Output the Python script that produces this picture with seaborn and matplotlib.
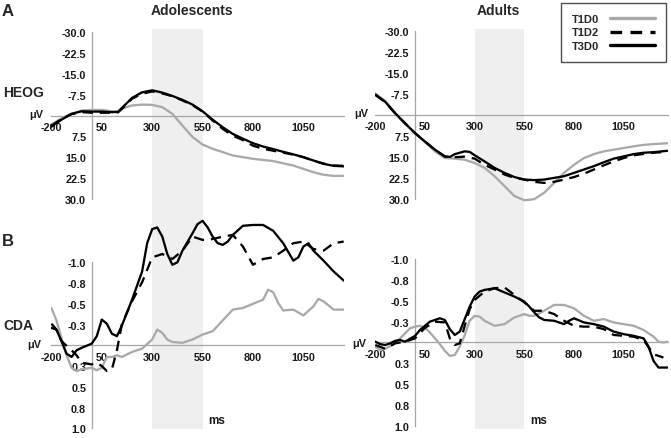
import numpy as np
import pandas as pd
import matplotlib
matplotlib.use("Agg")
import matplotlib.pyplot as plt
from matplotlib.lines import Line2D
from matplotlib.ticker import FixedLocator, FixedFormatter
import seaborn as sns

# ---------------- data ----------------
conditions = ["T1D0", "T1D2", "T3D0"]
groups = ["Adolescents", "Adults"]
x_ticks = [-200, 50, 300, 550, 800, 1050]
x_ticklabels = ["-200", "50", "300", "550", "800", "1050"]
heog_ticks = [-30, -22.5, -15, -7.5, 7.5, 15, 22.5, 30]
heog_ticklabels = ["-30.0", "-22.5", "-15.0", "-7.5", "7.5", "15.0", "22.5", "30.0"]
cda_ticks = [-1.0, -0.75, -0.5, -0.25, 0.25, 0.5, 0.75, 1.0]
cda_ticklabels = ["-1.0", "-0.8", "-0.5", "-0.3", "0.3", "0.5", "0.8", "1.0"]
window = [300, 550]

# HEOG, adolescents
heog_ado_t1d0_ms = [-200, -150, -100, -50, 0, 50, 100, 130, 150, 200, 250, 300, 350, 400, 450, 500,
                    550, 600, 650, 700, 800, 900, 1000, 1050, 1100, 1150, 1200, 1250]
heog_ado_t1d0 = [3.2, 1.0, -0.6, -1.8, -2.0, -2.0, -1.5, -1.4, -2.5, -3.6, -3.9, -3.8, -3.0, -0.6, 3.6, 7.7,
                 10.4, 11.9, 13.1, 14.3, 15.5, 16.3, 17.9, 19.1, 20.3, 21.2, 21.6, 21.6]
heog_ado_t1d2_ms = [-200, -150, -100, -50, 0, 50, 100, 130, 150, 200, 250, 300, 350, 400, 450, 500, 550,
                    600, 650, 700, 750, 800, 850, 900, 950, 1000, 1050, 1100, 1150, 1200, 1250]
heog_ado_t1d2 = [3.6, 1.3, -0.5, -1.2, -1.0, -1.0, -1.0, -1.1, -2.4, -6.0, -7.8, -8.6, -7.9, -6.9, -5.4, -3.7, -1.4,
                 1.8, 4.8, 7.2, 8.8, 10.8, 11.9, 12.6, 13.3, 14.0, 14.9, 16.2, 17.2, 17.9, 18.0]
heog_ado_t3d0_ms = [-200, -150, -100, -50, 0, 50, 100, 130, 150, 200, 250, 300, 350, 400, 450, 500, 550,
                    600, 650, 700, 750, 800, 850, 900, 950, 1000, 1050, 1100, 1150, 1200, 1250]
heog_ado_t3d0 = [4.0, 1.5, -0.6, -1.5, -1.4, -1.4, -1.2, -1.3, -2.7, -6.3, -8.3, -9.0, -8.2, -7.0, -5.6, -3.9, -1.5,
                 1.5, 4.2, 6.6, 8.3, 9.9, 11.1, 12.0, 13.0, 13.9, 14.9, 16.1, 17.3, 18.0, 18.2]

# HEOG, adults
heog_adu_t1d0_ms = [-200, -150, -100, -50, 0, 50, 100, 150, 200, 250, 300, 350, 400, 450, 500, 550, 600,
                    650, 700, 750, 800, 850, 900, 950, 1000, 1050, 1100, 1150, 1200, 1270]
heog_adu_t1d0 = [-7.7, -5.0, -0.8, 3.0, 6.5, 9.7, 13.0, 15.4, 15.6, 16.0, 17.2, 18.9, 21.9, 25.4, 29.0, 30.5, 30.1,
                 27.8, 24.3, 20.7, 17.8, 15.4, 14.0, 13.0, 12.4, 11.8, 11.2, 10.7, 10.4, 10.1]
heog_adu_t1d2_ms = [-200, -150, -100, -50, 0, 50, 100, 150, 200, 250, 300, 350, 400, 450, 500, 550, 600,
                    650, 700, 750, 800, 850, 900, 950, 1000, 1050, 1100, 1200, 1270]
heog_adu_t1d2 = [-7.2, -4.6, -0.6, 3.0, 6.5, 9.5, 12.4, 14.9, 15.1, 14.9, 15.6, 17.8, 19.5, 21.3, 22.5, 23.1, 23.9,
                 24.3, 23.9, 23.1, 22.2, 21.0, 19.5, 18.0, 16.6, 15.4, 14.4, 13.5, 13.2]
heog_adu_t3d0_ms = [-200, -150, -100, -50, 0, 50, 100, 150, 175, 200, 250, 275, 300, 350, 400, 450, 500, 550,
                    600, 650, 700, 750, 800, 850, 900, 950, 1000, 1050, 1100, 1150, 1200, 1270]
heog_adu_t3d0 = [-7.3, -4.7, -0.6, 3.0, 6.5, 9.5, 12.4, 14.8, 15.0, 14.0, 13.0, 13.2, 14.4, 16.6, 18.9, 20.7, 22.2,
                 23.1, 23.3, 23.1, 22.5, 21.9, 20.7, 19.5, 18.3, 16.9, 15.6, 14.8, 14.0, 13.5, 13.3, 12.8]

# CDA, adolescents
cda_ado_t1d0_ms = [-200, -175, -150, -125, -100, -75, -50, 0, 25, 50, 75, 100, 125, 150, 200, 250, 300, 325,
                   350, 375, 400, 450, 500, 550, 600, 650, 700, 750, 800, 850, 875, 900, 925, 950, 1000,
                   1050, 1100, 1125, 1150, 1200, 1250]
cda_ado_t1d0 = [-0.45, -0.30, -0.09, 0.12, 0.27, 0.31, 0.29, 0.27, 0.30, 0.27, 0.14, 0.14, 0.12, 0.14, 0.08,
                0.04, -0.07, -0.19, -0.15, -0.07, -0.04, -0.03, -0.07, -0.13, -0.17, -0.30, -0.43, -0.45,
                -0.50, -0.55, -0.67, -0.64, -0.51, -0.42, -0.43, -0.36, -0.47, -0.56, -0.53, -0.43, -0.43]
cda_ado_t1d2_ms = [-200, -175, -150, -100, -75, -50, 0, 25, 50, 75, 100, 125, 150, 200, 250, 300, 350, 400,
                   450, 500, 550, 600, 650, 700, 750, 800, 850, 900, 950, 1000, 1050, 1100, 1150, 1200, 1250]
cda_ado_t1d2 = [-0.26, -0.19, -0.05, 0.06, 0.12, 0.21, 0.23, 0.21, 0.25, 0.31, 0.29, 0.06, -0.26, -0.53, -0.76,
                -1.06, -1.10, -1.04, -1.14, -1.31, -1.27, -1.28, -1.31, -1.33, -1.19, -0.97, -1.04, -1.06,
                -1.14, -1.23, -1.25, -1.16, -1.14, -1.23, -1.25]
cda_ado_t3d0_ms = [-200, -175, -150, -125, -100, -75, -50, 0, 25, 50, 75, 100, 125, 150, 200, 250, 275, 300,
                   325, 350, 375, 400, 425, 450, 500, 525, 550, 575, 600, 625, 650, 675, 700, 750, 800, 850,
                   900, 950, 1000, 1025, 1050, 1075, 1100, 1150, 1200, 1250]
cda_ado_t3d0 = [-0.21, -0.19, -0.05, 0.10, 0.14, 0.06, 0.03, -0.02, -0.11, -0.31, -0.26, -0.14, -0.11, -0.24,
                -0.55, -0.89, -1.23, -1.40, -1.42, -1.31, -1.10, -0.97, -1.00, -1.14, -1.35, -1.46, -1.50,
                -1.42, -1.31, -1.23, -1.21, -1.25, -1.33, -1.44, -1.45, -1.45, -1.38, -1.23, -1.02, -1.06,
                -1.19, -1.23, -1.14, -1.02, -0.89, -0.78]

# CDA, adults
cda_adu_t1d0_ms = [-200, -175, -150, -100, -75, -50, -25, 0, 25, 50, 75, 100, 125, 150, 175, 200, 225, 250,
                   275, 300, 325, 350, 400, 450, 500, 550, 575, 600, 650, 700, 750, 800, 850, 900, 950,
                   1000, 1050, 1100, 1150, 1200, 1225, 1250, 1270]
cda_adu_t1d0 = [0.05, 0.09, 0.075, 0.01, -0.05, -0.11, -0.17, -0.19, -0.20, -0.175, -0.12, -0.05, 0.02, 0.10,
                0.16, 0.15, 0.05, -0.09, -0.26, -0.32, -0.31, -0.26, -0.20, -0.22, -0.30, -0.34, -0.32,
                -0.32, -0.38, -0.45, -0.45, -0.41, -0.32, -0.26, -0.28, -0.24, -0.22, -0.20, -0.15, -0.07,
                -0.01, 0.0, -0.01]
cda_adu_t1d2_ms = [-200, -150, -100, -50, 0, 50, 100, 150, 175, 200, 225, 250, 275, 300, 350, 400, 450, 500,
                   550, 600, 650, 700, 750, 800, 850, 900, 950, 1000, 1050, 1100, 1150, 1200, 1250]
cda_adu_t1d2 = [0.03, 0.075, 0.01, -0.01, -0.05, -0.175, -0.25, -0.24, -0.05, 0.03, 0.01, -0.20, -0.40, -0.51,
                -0.61, -0.65, -0.66, -0.57, -0.48, -0.38, -0.38, -0.34, -0.26, -0.20, -0.19, -0.19, -0.16,
                -0.09, -0.08, -0.07, -0.03, 0.14, 0.18]
cda_adu_t3d0_ms = [-200, -175, -150, -125, -100, -75, -50, 0, 25, 50, 75, 100, 125, 150, 175, 200, 225, 250,
                   275, 300, 325, 350, 400, 450, 500, 550, 575, 600, 625, 650, 700, 750, 775, 800, 850, 900,
                   950, 1000, 1050, 1100, 1150, 1175, 1200, 1225, 1270]
cda_adu_t3d0 = [-0.01, 0.02, 0.03, 0.01, -0.02, -0.03, -0.01, -0.08, -0.15, -0.20, -0.25, -0.27, -0.29, -0.27,
                -0.16, -0.09, -0.13, -0.28, -0.43, -0.55, -0.61, -0.63, -0.65, -0.60, -0.55, -0.49, -0.43,
                -0.36, -0.30, -0.27, -0.26, -0.22, -0.26, -0.29, -0.24, -0.22, -0.19, -0.13, -0.10, -0.08,
                -0.05, 0.05, 0.22, 0.30, 0.30]

# ---------------- style ----------------
sns.set_style("white")
plt.rcParams["font.family"] = ["Liberation Sans", "DejaVu Sans"]

palette = {"T1D0": "#a9a9a9", "T1D2": "#000000", "T3D0": "#000000"}
dashes = {"T1D0": "", "T1D2": (4.5, 3), "T3D0": ""}
spine_col = "#a6a6a6"
tick_col = "#1a1a1a"
LW = 1.65

W, H = 671, 439
fig = plt.figure(figsize=(W / 100, H / 100), dpi=100)


def add_ax(left, top, width, height):
    return fig.add_axes([left / W, 1 - (top + height) / H, width / W, height / H])


def long_df(series):
    rows = []
    for cond, (ms, vals) in series.items():
        for m, v in zip(ms, vals):
            rows.append({"ms": m, "uV": v, "cond": cond})
    return pd.DataFrame(rows)


panels = [
    # (left, top, width, height, xlim, ylim, data, ticks, ticklabels, bounds)
    (51.4, 30, 292.3, 185, (-200, 1250), (35.24, -30.95),
     {"T1D0": (heog_ado_t1d0_ms, heog_ado_t1d0), "T1D2": (heog_ado_t1d2_ms, heog_ado_t1d2),
      "T3D0": (heog_ado_t3d0_ms, heog_ado_t3d0)}, heog_ticks, heog_ticklabels, (-30, 30)),
    (375.3, 30, 293.1, 185, (-200, 1275), (35.42, -30.77),
     {"T1D0": (heog_adu_t1d0_ms, heog_adu_t1d0), "T1D2": (heog_adu_t1d2_ms, heog_adu_t1d2),
      "T3D0": (heog_adu_t3d0_ms, heog_adu_t3d0)}, heog_ticks, heog_ticklabels, (-30, 30)),
    (51.4, 215, 292.3, 215, (-200, 1250), (1.008, -1.582),
     {"T1D0": (cda_ado_t1d0_ms, cda_ado_t1d0), "T1D2": (cda_ado_t1d2_ms, cda_ado_t1d2),
      "T3D0": (cda_ado_t3d0_ms, cda_ado_t3d0)}, cda_ticks, cda_ticklabels, (-1, 1)),
    (375.3, 215, 293.1, 215, (-200, 1275), (1.036, -1.539),
     {"T1D0": (cda_adu_t1d0_ms, cda_adu_t1d0), "T1D2": (cda_adu_t1d2_ms, cda_adu_t1d2),
      "T3D0": (cda_adu_t3d0_ms, cda_adu_t3d0)}, cda_ticks, cda_ticklabels, (-1, 1)),
]

for (left, top, width, height, xlim, ylim, series, yt, ytl, bounds) in panels:
    ax = add_ax(left, top, width, height)
    ax.set_facecolor("none")
    ax.axvspan(window[0], window[1], color="#efefef", zorder=0, lw=0)
    df = long_df(series)
    sns.lineplot(data=df, x="ms", y="uV", hue="cond", style="cond", palette=palette,
                 dashes=dashes, hue_order=conditions, style_order=conditions,
                 sort=True, estimator=None, lw=LW, legend=False, ax=ax, zorder=3)
    ax.set_xlim(*xlim)
    ax.set_ylim(*ylim)
    ax.set_xlabel("")
    ax.set_ylabel("")
    for s in ["top", "right"]:
        ax.spines[s].set_visible(False)
    ax.spines["bottom"].set_position(("data", 0))
    ax.spines["left"].set_position(("data", 0))
    ax.spines["left"].set_bounds(*bounds)
    for s in ["bottom", "left"]:
        ax.spines[s].set_color(spine_col)
        ax.spines[s].set_linewidth(0.9)
        ax.spines[s].set_zorder(2)
    ax.xaxis.set_major_locator(FixedLocator(x_ticks))
    ax.xaxis.set_major_formatter(FixedFormatter(x_ticklabels))
    ax.yaxis.set_major_locator(FixedLocator(yt))
    ax.yaxis.set_major_formatter(FixedFormatter(ytl))
    ax.tick_params(axis="x", direction="in", length=3, width=0.9, color=spine_col, pad=4.5,
                   labelsize=7.8, labelcolor=tick_col)
    ax.tick_params(axis="y", direction="out", length=3, width=0.9, color=spine_col, pad=1,
                   labelsize=7.8, labelcolor=tick_col)
    for lab in ax.get_xticklabels() + ax.get_yticklabels():
        lab.set_fontweight("bold")

# ---------------- texts ----------------
fig.text(192 / W, 1 - 11 / H, "Adolescents", ha="center", va="center", fontsize=10, fontweight="bold")
fig.text(498 / W, 1 - 11 / H, "Adults", ha="center", va="center", fontsize=10, fontweight="bold")
fig.text(2 / W, 1 - 11 / H, "A", ha="left", va="center", fontsize=12, fontweight="bold")
fig.text(2 / W, 1 - 242 / H, "B", ha="left", va="center", fontsize=12, fontweight="bold")
fig.text(3 / W, 1 - 93 / H, "HEOG", ha="left", va="center", fontsize=10, fontweight="bold")
fig.text(3 / W, 1 - 326 / H, "CDA", ha="left", va="center", fontsize=10, fontweight="bold")
for (xr, yc) in [(43, 115), (368, 114), (41, 345), (366, 344)]:
    fig.text(xr / W, 1 - yc / H, "μV", ha="right", va="center", fontsize=7.8, fontweight="bold",
             color=tick_col)
for xl in [208, 530]:
    fig.text(xl / W, 1 - 421 / H, "ms", ha="left", va="center", fontsize=8.5, fontweight="bold",
             color=tick_col)

handles = [Line2D([], [], color=palette[c], lw=2.4,
                  linestyle=(0, (3.5, 2.5)) if c == "T1D2" else "-") for c in conditions]
leg = fig.legend(handles, conditions, loc="upper right", bbox_to_anchor=(666 / W, 1 - 4 / H),
                 frameon=True, fancybox=False, markerfirst=False, handlelength=4.0,
                 handletextpad=1.0, borderpad=1.0, labelspacing=0.3, borderaxespad=0,
                 prop={"weight": "bold", "size": 8})
leg.get_frame().set_edgecolor("#222222")
leg.get_frame().set_linewidth(1.0)

fig.savefig("out.png", dpi=100)
